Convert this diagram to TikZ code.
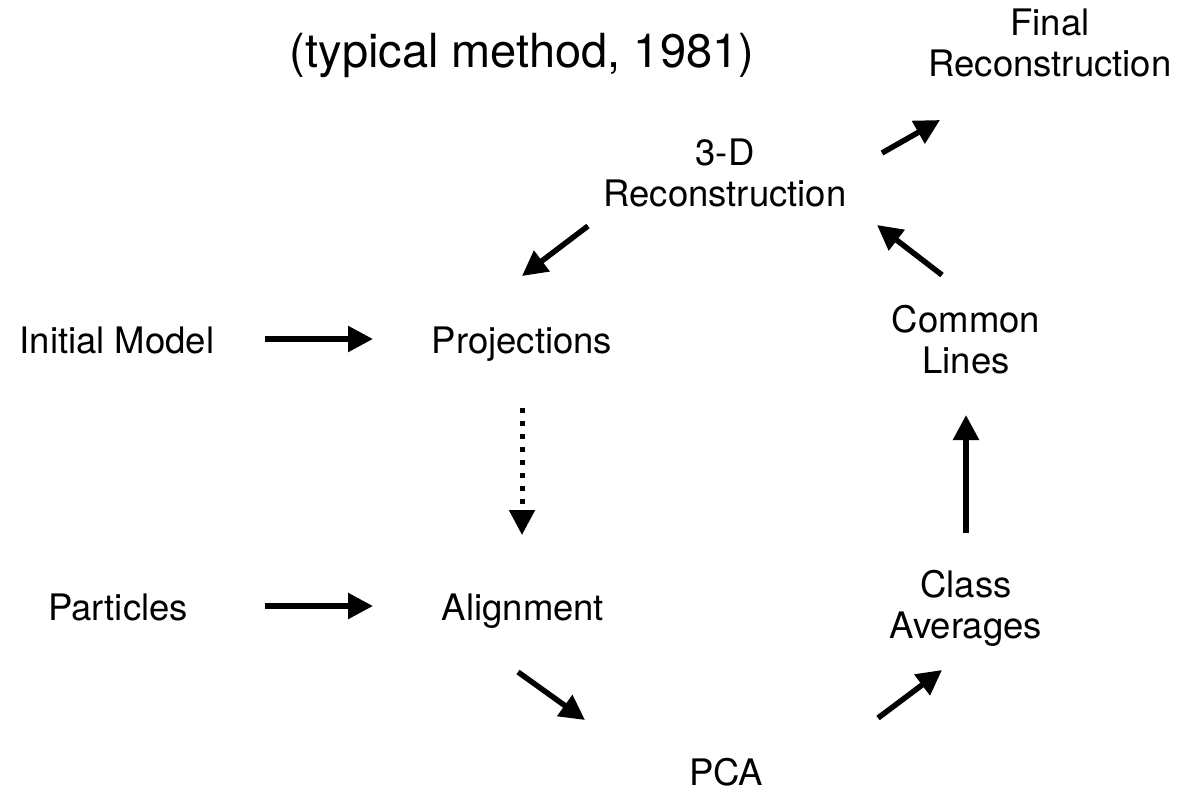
\documentclass[tikz,border=0pt]{standalone}
\usepackage{fontspec}
\setmainfont{TeX Gyre Heros}
\usetikzlibrary{arrows.meta,calc}
\begin{document}
\begin{tikzpicture}[x=1pt,y=-1pt,
  lbl/.style={inner sep=0pt,anchor=base,align=center,font=\fontsize{36.5}{40.5}\selectfont},
  arr/.style={line width=5.5pt,-{Triangle[length=25pt,width=25pt]}},
  dotarr/.style={line width=5pt,dash pattern=on 5pt off 8pt,-{Triangle[length=25pt,width=25pt]}}]
\useasboundingbox (0,0) rectangle (1187,796);
\node[lbl,font=\fontsize{47}{52}\selectfont] (title) at (522,67) {(typical method, 1981)};
\node[lbl] (final) at (1050,76) {Final\\Reconstruction};
\node[lbl] (rec3) at (725,206) {3-D\\Reconstruction};
\node[lbl] (init) at (117,353) {Initial Model};
\node[lbl] (proj) at (522,353) {Projections};
\node[lbl] (common) at (966,373) {Common\\Lines};
\node[lbl] (part) at (118,620) {Particles};
\node[lbl] (align) at (523,620) {Alignment};
\node[lbl] (classav) at (966,638) {Class\\Averages};
\node[lbl] (pca) at (726,785) {PCA};
\draw[arr] ($(init.base)+(148,-14)$) -- ($(proj.base)+(-149,-14)$);
\draw[arr] ($(rec3.base)+(-137,20)$) -- ($(proj.base)+(0,-77)$);
\draw[arr] ($(rec3.base)+(157,-53)$) -- ($(final.base)+(-110,44)$);
\draw[arr] ($(common.base)+(-24,-98)$) -- ($(rec3.base)+(152,19)$);
\draw[dotarr] ($(proj.base)+(0,55)$) -- ($(align.base)+(-1,-85)$);
\draw[arr] ($(part.base)+(147,-14)$) -- ($(align.base)+(-150,-14)$);
\draw[arr] ($(align.base)+(-5,52)$) -- ($(pca.base)+(-141,-65)$);
\draw[arr] ($(pca.base)+(152,-67)$) -- ($(classav.base)+(-24,32)$);
\draw[arr] ($(classav.base)+(0,-105)$) -- ($(common.base)+(0,42)$);
\end{tikzpicture}
\end{document}
